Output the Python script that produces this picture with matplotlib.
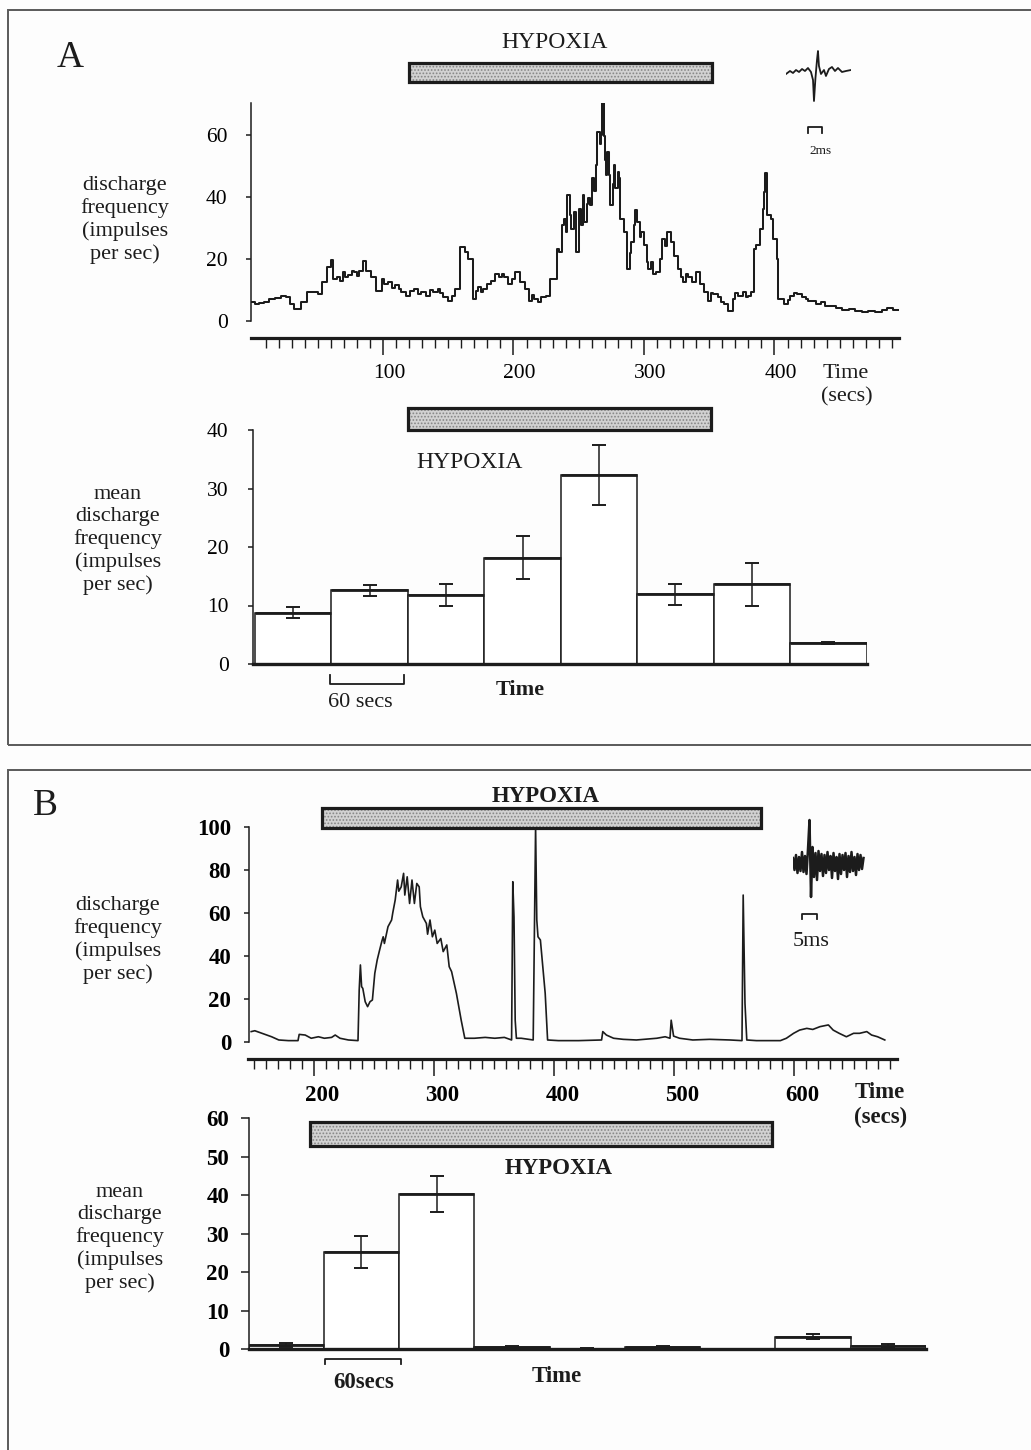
import numpy as np
import matplotlib
matplotlib.use('Agg')
import matplotlib.pyplot as plt
from matplotlib.patches import Rectangle
from matplotlib.transforms import blended_transform_factory, ScaledTranslation
from matplotlib.ticker import FixedLocator

plt.rcParams['font.family'] = ['Liberation Serif', 'DejaVu Serif']
plt.rcParams['hatch.linewidth'] = 0.8

# ---- panel A: single fibre discharge (secs, impulses/sec) ----
time_a = [0, 2, 5, 9, 13, 17, 22, 26, 29, 32, 37, 42, 46, 50, 53, 57, 60, 62,
          65, 67, 69, 71, 73, 76, 78, 80, 82, 85, 87, 91, 95, 99, 101, 104, 107,
          109, 112, 114, 118, 121, 124, 127, 129, 133, 136, 138, 142, 144, 146,
          150, 153, 155, 159, 163, 165, 168, 169, 171, 173, 175, 177, 180, 183,
          186, 189, 191, 193, 196, 199, 201, 205, 209, 212, 214, 216, 219, 221,
          225, 228, 230, 233, 235, 237, 239, 240, 241, 243, 244, 246, 248, 250,
          252, 253, 254, 256, 257, 259, 260, 262, 263, 264, 266, 267, 268, 269,
          270, 271, 272, 273, 274, 276, 277, 278, 280, 281, 282, 285, 287, 289,
          290, 292, 293, 295, 297, 298, 300, 302, 303, 305, 307, 309, 312, 314,
          316, 318, 321, 323, 326, 328, 330, 332, 334, 337, 340, 343, 346, 349,
          351, 353, 357, 359, 361, 364, 368, 370, 372, 376, 378, 380, 382, 384,
          386, 389, 391, 392, 393, 394, 397, 399, 402, 403, 407, 410, 412, 415,
          417, 421, 424, 426, 432, 436, 439, 443, 447, 452, 457, 462, 467, 472,
          477, 482, 486, 491, 496]
rate_a = [6.0, 5.4, 5.8, 6.0, 6.9, 7.4, 8.1, 7.6, 5.5, 3.8, 6.0, 9.2, 9.2, 8.6,
          12.4, 17.3, 19.5, 13.5, 14.0, 12.8, 15.7, 14.2, 14.6, 15.9, 15.7, 14.4,
          16.2, 19.2, 16.2, 14.0, 9.7, 13.5, 11.8, 12.4, 10.6, 11.4, 10.1, 9.2,
          8.1, 9.6, 10.3, 8.5, 9.2, 8.1, 9.8, 9.2, 10.3, 8.9, 7.6, 6.5, 8.0, 10.3,
          23.8, 22.2, 20.0, 20.0, 7.0, 9.5, 10.8, 9.4, 10.3, 11.9, 12.8, 15.1,
          14.0, 15.2, 14.0, 11.9, 13.6, 15.7, 12.4, 10.3, 6.5, 8.2, 7.0, 6.0, 7.6,
          8.1, 13.5, 13.5, 23.2, 22.2, 30.8, 33.0, 28.5, 40.5, 34.0, 29.7, 35.0,
          22.2, 36.0, 31.0, 40.5, 32.0, 37.8, 39.5, 37.3, 46.0, 42.0, 50.3, 61.0,
          57.0, 60.0, 70.3, 59.5, 52.0, 47.0, 54.6, 47.0, 37.3, 44.0, 50.3, 42.7,
          48.0, 46.0, 33.0, 28.6, 16.8, 22.0, 25.4, 31.0, 35.7, 32.0, 27.0, 28.6,
          24.3, 19.0, 16.8, 18.9, 15.0, 15.7, 20.0, 26.5, 24.0, 28.6, 25.4, 21.0,
          16.8, 14.2, 12.4, 15.0, 14.0, 12.4, 15.7, 11.9, 9.2, 6.5, 8.8, 8.6, 7.6,
          6.2, 5.4, 3.2, 7.0, 8.8, 8.1, 9.2, 7.6, 8.1, 9.2, 23.2, 24.3, 29.7, 36.0,
          41.6, 47.6, 34.0, 33.0, 26.5, 20.0, 7.0, 5.4, 6.8, 8.1, 9.0, 8.6, 7.6,
          6.9, 6.5, 5.4, 5.9, 4.9, 4.6, 4.0, 3.6, 3.8, 3.2, 2.9, 3.1, 2.9, 3.6,
          4.1, 3.5, 3.2]
hypoxia_a = (120, 352)                 # secs, trace
hypoxia_a_bins = (2.0, 5.97)           # bin units, histogram

mean_a = [8.8, 12.6, 11.8, 18.2, 32.3, 11.9, 13.6, 3.6]
sem_a = [1.0, 0.9, 1.9, 3.7, 5.1, 1.85, 3.6, 0.2]

# extracellular spike, panel A (ms, arbitrary amplitude)
spike_a_ms = [0, 0.57, 1.0, 1.43, 1.86, 2.29, 2.71, 3.14, 3.57, 3.86, 4.0, 4.21,
              4.43, 4.57, 4.71, 5.0, 5.43, 5.71, 6.14, 6.57, 7.0, 7.43, 8.0,
              8.57, 9.29]
spike_a = [-2, 1, -1, 2, 0, 3, 1, 4, 0, -8, -29, -6, 12, 21, 6, -2, 2, -4, 3, 5,
           1, 4, 0, 1, 2]

# ---- panel B ----
time_b = [148, 151, 157, 165, 171, 179, 187, 188, 193, 198, 204, 209, 215, 218,
          222, 229, 237, 238, 239, 240, 241, 243, 245, 247, 249, 251, 253, 255,
          257, 258, 259, 262, 265, 266, 268, 270, 271, 273, 275, 276, 278, 280,
          282, 284, 286, 288, 289, 291, 294, 295, 297, 299, 301, 303, 306, 308,
          311, 313, 315, 319, 323, 326, 334, 343, 351, 359, 365, 366, 367, 368,
          369, 373, 383, 385, 386, 387, 389, 393, 395, 404, 421, 440, 441, 444,
          450, 458, 469, 486, 493, 497, 498, 500, 505, 516, 530, 547, 557, 558,
          559.5, 561, 569, 589, 594, 600, 605, 611, 616, 622, 629, 633, 638, 644,
          650, 655, 661, 665, 670, 676]
rate_b = [4.7, 5.1, 3.9, 2.3, 0.8, 0.5, 0.5, 3.4, 3.1, 1.6, 2.3, 1.6, 2.0, 3.1,
          1.6, 0.8, 0.5, 24.0, 35.7, 25.6, 24.8, 18.6, 16.3, 18.6, 19.4, 31.8,
          38.0, 42.6, 47.0, 48.8, 45.7, 53.5, 56.6, 60.0, 65.9, 75.2, 70.0, 72.0,
          78.3, 68.2, 76.7, 64.3, 75.2, 64.3, 73.6, 72.0, 62.8, 58.1, 55.0, 50.0,
          56.6, 48.8, 51.9, 45.7, 48.0, 41.9, 45.0, 34.9, 32.6, 22.5, 10.0, 1.6,
          1.6, 2.0, 1.6, 2.0, 0.8, 74.4, 58.0, 10.0, 1.6, 1.6, 0.8, 100.0, 56.6,
          48.8, 47.3, 22.5, 0.8, 0.5, 0.5, 0.8, 4.7, 3.1, 1.6, 1.1, 0.8, 1.6, 2.3,
          1.6, 10.0, 2.6, 1.6, 0.8, 1.1, 0.8, 0.5, 68.2, 17.8, 0.8, 0.5, 0.5, 1.6,
          3.9, 5.4, 6.2, 5.7, 7.0, 7.8, 5.4, 3.9, 2.3, 3.9, 3.9, 4.7, 3.1, 2.3,
          0.8]
hypoxia_b = (207, 573)
hypoxia_b_bins = (0.82, 6.96)

mean_b = [1.1, 25.3, 40.3, 0.5, 0.15, 0.5, 0.1, 3.3, 0.9]
sem_b = [0.5, 4.1, 4.7, 0.3, 0.1, 0.3, 0.1, 0.6, 0.4]

spike_b_ms = [0.0, 0.5, 1.0, 1.5, 2.0, 2.5, 3.0, 3.5, 4.0, 4.5, 5.0, 5.5, 6.0,
              6.5, 7.0, 7.5, 8.0, 8.5, 9.0, 9.5, 10.0, 10.5, 11.0, 11.5, 12.0,
              12.5, 13.0, 13.5, 14.0, 14.5, 15.0, 15.5, 16.0, 16.5, 17.0, 17.5,
              18.0, 18.5, 19.0, 19.5, 20.0, 20.5, 21.0, 21.5, 22.0, 22.5, 23.0,
              23.5]
spike_b = [5, -7, 8, -10, 6, -8, 11, -9, 7, -11, 14, 43, -34, 16, -14, 10, -17,
           12, -8, 9, -13, 8, -10, 11, -7, 7, -15, 10, -8, 6, -16, 9, -11, 8, -7,
           10, -14, 7, -9, 11, -8, 6, -12, 9, -7, 8, -6, 5]

ink = '#1c1c1c'
W, H = 1031, 1450
fig = plt.figure(figsize=(W / 100, H / 100), dpi=100)
fig.patch.set_facecolor('#fdfdfd')


def px_box(x0, y0, x1, y1):
    return [x0 / W, 1 - y1 / H, (x1 - x0) / W, (y1 - y0) / H]


def put(x, y, s, **kw):
    kw.setdefault('ha', 'center')
    kw.setdefault('va', 'center')
    kw.setdefault('color', ink)
    fig.text(x / W, 1 - y / H, s, **kw)


def hypoxia_bar(ax, span, y0, y1):
    tr = blended_transform_factory(ax.transData, ax.transAxes)
    ax.add_patch(Rectangle((span[0], y0), span[1] - span[0], y1 - y0,
                           transform=tr, facecolor='#d2d2d2', edgecolor='#858585',
                           hatch='.....', lw=0, clip_on=False))
    ax.add_patch(Rectangle((span[0], y0), span[1] - span[0], y1 - y0,
                           transform=tr, facecolor='none', edgecolor=ink,
                           lw=2.3, clip_on=False))


def trace_axes(box, xlim, ylim, yticks, majors, minors, size, weight, shift,
               ypad):
    ax = fig.add_axes(px_box(*box))
    ax.patch.set_alpha(0)
    ax.set_xlim(xlim)
    ax.set_ylim(ylim)
    ax.spines['top'].set_visible(False)
    ax.spines['right'].set_visible(False)
    ax.spines['bottom'].set_position(('outward', 12.3))
    ax.spines['bottom'].set_linewidth(2.3)
    ax.spines['left'].set_linewidth(1.1)
    for s in ax.spines.values():
        s.set_color(ink)
    ax.xaxis.set_major_locator(FixedLocator(majors))
    ax.xaxis.set_minor_locator(FixedLocator(minors))
    ax.set_yticks(yticks)
    ax.tick_params(axis='x', which='major', length=12, width=1.1, pad=7,
                   color=ink, labelsize=size)
    ax.tick_params(axis='x', which='minor', length=7.5, width=1.0, color=ink)
    ax.tick_params(axis='y', length=3.5, width=1.1, pad=ypad, color=ink,
                   labelsize=size)
    off = ScaledTranslation(shift / 100, 0, fig.dpi_scale_trans)
    for lab in ax.get_xticklabels():
        lab.set_transform(lab.get_transform() + off)
        lab.set_fontweight(weight)
    for lab in ax.get_yticklabels():
        lab.set_fontweight(weight)
    return ax


def bar_axes(box, values, errs, xlim, ylim, yticks, size, weight, tick_len,
             ypad):
    ax = fig.add_axes(px_box(*box))
    ax.patch.set_alpha(0)
    x = np.arange(len(values))
    ax.bar(x, values, width=1, align='edge', facecolor='white', edgecolor=ink,
           lw=1.1, zorder=2)
    ax.hlines(values, x, x + 1, color=ink, lw=2.0, zorder=3)
    ax.errorbar(x + 0.5, values, yerr=errs, fmt='none', ecolor=ink,
                elinewidth=1.1, capsize=5, capthick=1.4, zorder=4)
    ax.set_xlim(xlim)
    ax.set_ylim(ylim)
    ax.set_xticks([])
    ax.set_yticks(yticks)
    ax.spines['top'].set_visible(False)
    ax.spines['right'].set_visible(False)
    ax.spines['bottom'].set_linewidth(2.4)
    ax.spines['left'].set_linewidth(1.1)
    for s in ax.spines.values():
        s.set_color(ink)
    ax.tick_params(axis='y', length=tick_len, width=1.1, pad=ypad, color=ink,
                   labelsize=size)
    for lab in ax.get_yticklabels():
        lab.set_fontweight(weight)
    return ax


def bracket(ax, span, y_line, y_leg):
    tr = blended_transform_factory(ax.transData, ax.transAxes)
    ax.plot([span[0], span[0], span[1], span[1]], [y_leg, y_line, y_line, y_leg],
            transform=tr, color=ink, lw=1.3, clip_on=False)


# panel frames
fig.add_artist(Rectangle((8 / W, 1 - 745 / H), 1.1, (745 - 10) / H,
                         transform=fig.transFigure, fill=False,
                         edgecolor='#5a5a5a', lw=1.4))
fig.add_artist(Rectangle((8 / W, -0.1), 1.1, 0.1 + (1450 - 770) / H,
                         transform=fig.transFigure, fill=False,
                         edgecolor='#5a5a5a', lw=1.4))

ylab = dict(fontsize=16, linespacing=1.22)

# ---------------- A: rate trace ----------------
ax1 = trace_axes((250.5, 103, 899, 320.7), (-1.5, 495.4), (0, 70.3),
                 [0, 20, 40, 60], [100, 200, 300, 400], list(range(10, 500, 10)),
                 15.5, 'normal', 6, 13)
ax1.plot(time_a, rate_a, drawstyle='steps-post', color=ink, lw=1.45)
hypoxia_bar(ax1, hypoxia_a, 1.0965, 1.1835)

sp1 = fig.add_axes(px_box(786, 45, 851, 135))
sp1.axis('off')
sp1.set_xlim(0, 9.29)
sp1.set_ylim(-63, 27)
sp1.plot(spike_a_ms, spike_a, color=ink, lw=1.3)
sp1.plot([3.14, 3.14, 5.14, 5.14], [-61, -55, -55, -61], color=ink, lw=1.3)
put(820, 151, '2ms', fontsize=9.5)

put(70, 58, 'A', fontsize=27)
put(555, 42, 'HYPOXIA', fontsize=17)
put(125, 220, 'discharge\nfrequency\n(impulses\nper sec)', **ylab)
put(846, 373, 'Time', fontsize=16)
put(847, 397, '(secs)', fontsize=16)

# ---------------- A: histogram ----------------
ax2 = bar_axes((253, 430, 866.5, 664), mean_a, sem_a, (-0.026, 8.0), (0, 40),
               [0, 10, 20, 30, 40], 15.5, 'normal', 3.5, 14)
hypoxia_bar(ax2, hypoxia_a_bins, 1.0, 1.094)
bracket(ax2, (0.98, 1.95), -0.085, -0.047)
put(470, 463, 'HYPOXIA', fontsize=17)
put(118, 540, 'mean\ndischarge\nfrequency\n(impulses\nper sec)', **ylab)
put(520, 690, 'Time', fontsize=16, fontweight='bold')
put(360, 703, '60 secs', fontsize=16)

# ---------------- B: rate trace ----------------
ax3 = trace_axes((248.5, 826.7, 897.5, 1041.7), (145.75, 686.6), (0, 100),
                 [0, 20, 40, 60, 80, 100], [200, 300, 400, 500, 600],
                 list(range(150, 690, 10)), 16.5, 'bold', 9, 9)
ax3.plot(time_b, rate_b, color=ink, lw=1.2)
hypoxia_bar(ax3, hypoxia_b, 0.9926, 1.086)

sp2 = fig.add_axes(px_box(793, 810, 866, 925))
sp2.axis('off')
sp2.set_xlim(0, 24.33)
sp2.set_ylim(-62, 53)
sp2.plot(spike_b_ms, spike_b, color=ink, lw=1.8)
sp2.plot([3.1, 3.1, 8.1, 8.1], [-56, -51, -51, -56], color=ink, lw=1.3)
put(811, 941, '5ms', fontsize=16)

put(45, 806, 'B', fontsize=27)
put(546, 796, 'HYPOXIA', fontsize=16.5, fontweight='bold')
put(118, 940, 'discharge\nfrequency\n(impulses\nper sec)', **ylab)
put(880, 1093, 'Time', fontsize=16.5, fontweight='bold')
put(881, 1117, '(secs)', fontsize=16.5, fontweight='bold')

# ---------------- B: histogram ----------------
ax4 = bar_axes((248.5, 1118.3, 926, 1349.3), mean_b, sem_b, (0, 9), (0, 60),
               [0, 10, 20, 30, 40, 50, 60], 16.5, 'bold', 6, 8)
hypoxia_bar(ax4, hypoxia_b_bins, 0.88, 0.985)
bracket(ax4, (1.02, 2.03), -0.042, -0.064)
put(559, 1168, 'HYPOXIA', fontsize=16.5, fontweight='bold')
put(120, 1238, 'mean\ndischarge\nfrequency\n(impulses\nper sec)', **ylab)
put(557, 1377, 'Time', fontsize=16.5, fontweight='bold')
put(364, 1383, '60secs', fontsize=16.5, fontweight='bold')

fig.savefig('out.png', dpi=100, facecolor=fig.get_facecolor())
